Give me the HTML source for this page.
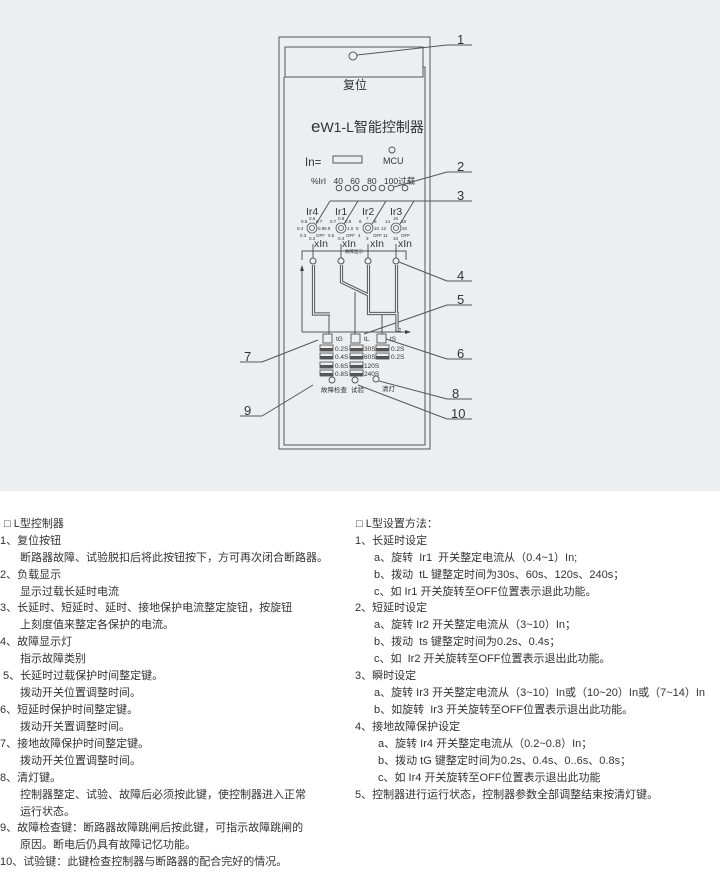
<!DOCTYPE html>
<html><head><meta charset="utf-8"><style>
*{margin:0;padding:0}
body{width:720px;height:874px;position:relative;background:#fff;overflow:hidden;font-family:"Liberation Sans","Noto Sans CJK SC",sans-serif;color:#333}
.t{position:absolute;font-size:11px;white-space:nowrap;line-height:14px}
svg text{font-family:"Liberation Sans","Noto Sans CJK SC",sans-serif;fill:#333}
</style></head><body>
<svg width="720" height="874" style="position:absolute;left:0;top:0">
<rect x="0" y="0" width="720" height="491" fill="#ebeff2"/>
<g fill="none" stroke="#555" stroke-width="1">
<rect x="279" y="37" width="151" height="412"/>
<rect x="285" y="47" width="138" height="30"/>
<polyline points="284,77 284,445 425,445 425,77"/>
<polyline points="423,67 425,67 425,77"/>
<circle cx="353" cy="56" r="4"/>
<rect x="333" y="156" width="29" height="7"/>
<circle cx="392" cy="150" r="3"/>
<circle cx="339" cy="188" r="2.8"/><circle cx="348" cy="188" r="2.8"/><circle cx="356" cy="188" r="2.8"/><circle cx="365" cy="188" r="2.8"/><circle cx="373" cy="188" r="2.8"/><circle cx="382" cy="188" r="2.8"/><circle cx="391" cy="188" r="2.8"/><circle cx="405" cy="188" r="2.8"/>
<line x1="357" y1="55" x2="447" y2="45"/><line x1="447" y1="45" x2="472" y2="45"/>
<line x1="394" y1="187" x2="447" y2="172"/><line x1="447" y1="172" x2="472" y2="172"/>
<line x1="330" y1="201" x2="472" y2="201"/>
<line x1="316" y1="224" x2="330" y2="201"/><line x1="344" y1="224" x2="358" y2="201"/><line x1="372" y1="224" x2="386" y2="201"/><line x1="400" y1="224" x2="414" y2="201"/>
<line x1="399" y1="262" x2="447" y2="281"/><line x1="447" y1="281" x2="472" y2="281"/>
<line x1="364" y1="334" x2="447" y2="305"/><line x1="447" y1="305" x2="472" y2="305"/>
<line x1="386" y1="339" x2="447" y2="359"/><line x1="447" y1="359" x2="472" y2="359"/>
<line x1="318" y1="340" x2="262" y2="362"/><line x1="240" y1="362" x2="262" y2="362"/>
<line x1="379" y1="381" x2="447" y2="399"/><line x1="447" y1="399" x2="472" y2="399"/>
<line x1="313" y1="385" x2="262" y2="416"/><line x1="240" y1="416" x2="262" y2="416"/>
<line x1="358" y1="385" x2="447" y2="419"/><line x1="447" y1="419" x2="472" y2="419"/>
<g stroke-width="0.8">
<circle cx="312" cy="228" r="5"/><circle cx="312" cy="228" r="2.5"/>
<circle cx="341" cy="228" r="5"/><circle cx="341" cy="228" r="2.5"/>
<circle cx="368" cy="228" r="5"/><circle cx="368" cy="228" r="2.5"/>
<circle cx="396" cy="228" r="5"/><circle cx="396" cy="228" r="2.5"/>
</g>
<polyline points="302,260 302,251 406,251 406,260"/>
<line x1="313" y1="244" x2="313" y2="258"/><line x1="341" y1="244" x2="341" y2="258"/><line x1="368" y1="244" x2="368" y2="258"/><line x1="396" y1="244" x2="396" y2="258"/>
<circle cx="313" cy="261" r="3" fill="#ebeff2"/><circle cx="341" cy="261" r="3" fill="#ebeff2"/><circle cx="368" cy="261" r="3" fill="#ebeff2"/><circle cx="396" cy="261" r="3" fill="#ebeff2"/>
<line x1="302" y1="270" x2="302" y2="332"/><line x1="302" y1="332" x2="408" y2="332"/>
<line x1="329" y1="314" x2="329" y2="334"/>
<line x1="355" y1="292" x2="355" y2="334"/>
<line x1="382" y1="314" x2="382" y2="334"/>
</g>
<polygon points="302,265 300,271 304,271" fill="#444"/>
<polygon points="411,332 405,330 405,334" fill="#444"/>
<g fill="none" stroke="#555" stroke-width="3.2">
<polyline points="313.5,265 313.5,314 330,314"/>
<polyline points="341.5,265 341.5,282 368.5,295 368.5,313.5 397,313.5 397,330 401,330"/>
<line x1="368.5" y1="265" x2="368.5" y2="296"/>
<line x1="396.5" y1="265" x2="396.5" y2="314"/>
</g>
<g fill="none" stroke="#ebeff2" stroke-width="1.2">
<polyline points="313.5,265 313.5,314 330,314"/>
<polyline points="341.5,265 341.5,282 368.5,295 368.5,313.5 397,313.5 397,330 401,330"/>
<line x1="368.5" y1="265" x2="368.5" y2="296"/>
<line x1="396.5" y1="265" x2="396.5" y2="314"/>
</g>
<g fill="#ebeff2" stroke="#555" stroke-width="0.9">
<rect x="323" y="334" width="9" height="9"/><rect x="351" y="334" width="9" height="9"/><rect x="377" y="334" width="9" height="9"/>
<rect x="320" y="345" width="13" height="6"/><rect x="320" y="353" width="13" height="6"/><rect x="320" y="362" width="13" height="6"/><rect x="320" y="370" width="13" height="6"/>
<rect x="350" y="345" width="13" height="6"/><rect x="350" y="353" width="13" height="6"/><rect x="350" y="362" width="13" height="6"/><rect x="350" y="370" width="13" height="6"/>
<rect x="376" y="345" width="13" height="6"/><rect x="376" y="353" width="13" height="6"/>
<circle cx="332" cy="380" r="3"/><circle cx="355" cy="380" r="3"/><circle cx="376" cy="379" r="3"/>
</g>
<g fill="#555">
<rect x="320" y="348" width="13" height="3"/><rect x="320" y="356" width="13" height="3"/><rect x="320" y="365" width="13" height="3"/><rect x="320" y="373" width="13" height="3"/>
<rect x="350" y="348" width="13" height="3"/><rect x="350" y="356" width="13" height="3"/><rect x="350" y="365" width="13" height="3"/><rect x="350" y="373" width="13" height="3"/>
<rect x="376" y="348" width="13" height="3"/><rect x="376" y="356" width="13" height="3"/>
</g>
<g font-size="6.5" fill="#333">
<text x="335" y="351">0.2S</text><text x="335" y="359">0.4S</text><text x="335" y="368">0.6S</text><text x="335" y="376">0.8S</text>
<text x="364" y="351">30S</text><text x="364" y="359">60S</text><text x="364" y="368">120S</text><text x="364" y="376">240S</text>
<text x="391" y="351">0.2S</text><text x="391" y="359">0.2S</text>
<text x="336" y="341">tG</text><text x="364" y="341">tL</text><text x="390" y="341">tS</text>
<text x="321" y="392">故障检查</text><text x="351" y="392">试验</text><text x="382" y="391">清灯</text>
<text x="345" y="253" font-size="4.5">故障显示</text>
</g>
<g font-size="4.5">
<text x="309" y="220">0.6</text><text x="301" y="223">0.5</text><text x="316" y="223">0.7</text><text x="297" y="230">0.4</text><text x="318" y="230">0.8</text><text x="300" y="237">0.3</text><text x="316" y="237">OFF</text><text x="309" y="240">0.2</text>
<text x="338" y="220">0.8</text><text x="330" y="223">0.7</text><text x="345" y="223">0.9</text><text x="324" y="230">0.9</text><text x="347" y="230">1.0</text><text x="328" y="237">0.5</text><text x="346" y="237">OFF</text><text x="338" y="240">0.4</text>
<text x="366" y="220">7</text><text x="359" y="223">6</text><text x="374" y="223">8</text><text x="356" y="230">5</text><text x="374" y="230">10</text><text x="358" y="237">4</text><text x="373" y="237">OFF</text><text x="366" y="240">3</text>
<text x="393" y="220">16</text><text x="385" y="223">14</text><text x="401" y="223">18</text><text x="381" y="230">12</text><text x="402" y="230">20</text><text x="383" y="237">11</text><text x="401" y="237">OFF</text><text x="393" y="240">10</text>
</g>
<g font-size="10.5">
<text x="306" y="215">Ir4</text><text x="335" y="215">Ir1</text><text x="362" y="215">Ir2</text><text x="390" y="215">Ir3</text>
<text x="314" y="247">xIn</text><text x="342" y="247">xIn</text><text x="370" y="247">xIn</text><text x="398" y="247">xIn</text>
</g>
<text x="343" y="89" font-size="12">复位</text>
<text x="311" y="132" font-size="14"><tspan font-size="17">e</tspan>W1-L智能控制器</text>
<text x="383" y="164" font-size="9">MCU</text>
<text x="305" y="166" font-size="11.5">In=</text>
<text x="311" y="184" font-size="8.5" word-spacing="5">%IrI 40 60 80 100过载</text>
<g font-size="13">
<text x="457" y="44">1</text><text x="457" y="171">2</text><text x="457" y="200">3</text><text x="457" y="280">4</text><text x="457" y="304">5</text><text x="457" y="358">6</text><text x="244" y="361">7</text><text x="452" y="398">8</text><text x="244" y="415">9</text><text x="451" y="418">10</text>
</g>
</svg>
<div class="t" style="left:4px;top:517px">□ L型控制器</div>
<div class="t" style="left:0;top:534px">1、复位按钮</div>
<div class="t" style="left:20px;top:551px">断路器故障、试验脱扣后将此按钮按下，方可再次闭合断路器。</div>
<div class="t" style="left:0;top:568px">2、负载显示</div>
<div class="t" style="left:20px;top:585px">显示过载长延时电流</div>
<div class="t" style="left:0;top:601px">3、长延时、短延时、延时、接地保护电流整定旋钮，按旋钮</div>
<div class="t" style="left:20px;top:618px">上刻度值来整定各保护的电流。</div>
<div class="t" style="left:0;top:635px">4、故障显示灯</div>
<div class="t" style="left:20px;top:652px">指示故障类别</div>
<div class="t" style="left:3px;top:669px">5、长延时过载保护时间整定键。</div>
<div class="t" style="left:20px;top:686px">拨动开关位置调整时间。</div>
<div class="t" style="left:0;top:703px">6、短延时保护时间整定键。</div>
<div class="t" style="left:20px;top:720px">拨动开关置调整时间。</div>
<div class="t" style="left:0;top:737px">7、接地故障保护时间整定键。</div>
<div class="t" style="left:20px;top:754px">拨动开关位置调整时间。</div>
<div class="t" style="left:0;top:771px">8、清灯键。</div>
<div class="t" style="left:20px;top:788px">控制器整定、试验、故障后必须按此键，使控制器进入正常</div>
<div class="t" style="left:20px;top:805px">运行状态。</div>
<div class="t" style="left:0;top:821px">9、故障检查键：断路器故障跳闸后按此键，可指示故障跳闸的</div>
<div class="t" style="left:20px;top:838px">原因。断电后仍具有故障记忆功能。</div>
<div class="t" style="left:0;top:855px">10、试验键：此键检查控制器与断路器的配合完好的情况。</div>

<div class="t" style="left:356px;top:517px">□ L型设置方法：</div>
<div class="t" style="left:355px;top:534px">1、长延时设定</div>
<div class="t" style="left:374px;top:551px">a、旋转 &nbsp;Ir1 &nbsp;开关整定电流从（0.4~1）In;</div>
<div class="t" style="left:374px;top:568px">b、拨动 &nbsp;tL 键整定时间为30s、60s、120s、240s；</div>
<div class="t" style="left:374px;top:585px">c、如 Ir1 开关旋转至OFF位置表示退此功能。</div>
<div class="t" style="left:355px;top:601px">2、短延时设定</div>
<div class="t" style="left:374px;top:618px">a、旋转 Ir2 开关整定电流从（3~10）In；</div>
<div class="t" style="left:374px;top:635px">b、拨动 &nbsp;ts 键整定时间为0.2s、0.4s；</div>
<div class="t" style="left:374px;top:652px">c、如 &nbsp;Ir2 开关旋转至OFF位置表示退出此功能。</div>
<div class="t" style="left:355px;top:669px">3、瞬时设定</div>
<div class="t" style="left:374px;top:686px">a、旋转 Ir3 开关整定电流从（3~10）In或（10~20）In或（7~14）In</div>
<div class="t" style="left:374px;top:703px">b、如旋转 &nbsp;Ir3 开关旋转至OFF位置表示退出此功能。</div>
<div class="t" style="left:355px;top:720px">4、接地故障保护设定</div>
<div class="t" style="left:378px;top:737px">a、旋转 Ir4 开关整定电流从（0.2~0.8）In；</div>
<div class="t" style="left:378px;top:754px">b、拨动 tG 键整定时间为0.2s、0.4s、0..6s、0.8s；</div>
<div class="t" style="left:378px;top:771px">c、如 Ir4 开关旋转至OFF位置表示退出此功能</div>
<div class="t" style="left:355px;top:788px">5、控制器进行运行状态，控制器参数全部调整结束按清灯键。</div>
</body></html>
